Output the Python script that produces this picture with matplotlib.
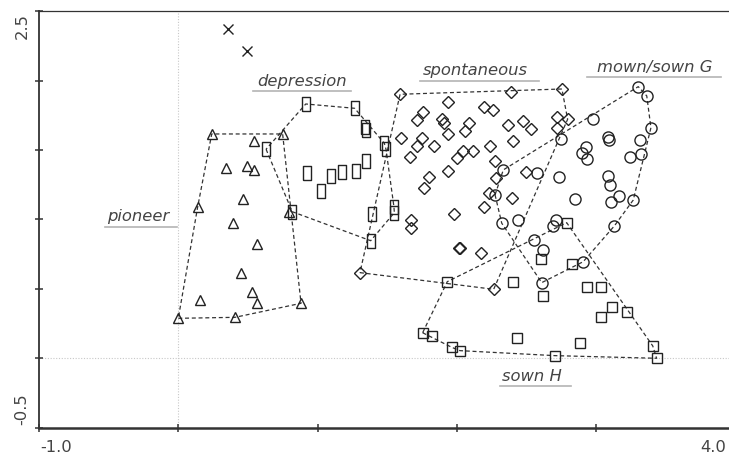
import matplotlib
matplotlib.use("Agg")
import matplotlib.pyplot as plt

# ordination scores, one pair of lists per group
cross_x = [0.357, 0.493]
cross_y = [2.372, 2.214]

pioneer_x = [0.240, 0.543, 0.749, 0.342, 0.491, 0.546, 0.462, 0.139, 0.797, 0.395,
             0.567, 0.450, 0.531, 0.563, 0.156, 0.881, 0.000, 0.407]
pioneer_y = [1.616, 1.566, 1.616, 1.373, 1.385, 1.357, 1.148, 1.090, 1.054, 0.977,
             0.823, 0.617, 0.476, 0.396, 0.420, 0.396, 0.288, 0.295]

depression_x = [0.915, 1.266, 1.343, 1.350, 1.479, 1.491, 0.630, 0.922, 1.027, 1.096,
                1.177, 1.278, 1.345, 0.818, 1.393, 1.548, 1.551, 1.381]
depression_y = [1.832, 1.801, 1.668, 1.645, 1.549, 1.506, 1.506, 1.333, 1.208, 1.313,
                1.344, 1.352, 1.421, 1.056, 1.040, 1.092, 1.049, 0.847]

spontaneous_x = [1.592, 2.388, 2.754, 1.938, 1.754, 1.716, 2.195, 2.257, 1.891, 1.907,
                 2.087, 2.058, 2.365, 2.477, 2.532, 1.599, 1.747, 1.711, 1.838, 1.938,
                 2.405, 1.663, 1.999, 2.046, 2.113, 2.235, 2.274, 1.938, 1.800, 1.766,
                 2.279, 2.233, 2.396, 2.494, 2.197, 1.981, 1.671, 1.671, 2.015, 2.020,
                 2.173, 1.304, 2.264, 2.721, 2.795, 2.716]
spontaneous_y = [1.902, 1.916, 1.940, 1.844, 1.772, 1.717, 1.813, 1.789, 1.722, 1.697,
                 1.693, 1.640, 1.681, 1.710, 1.652, 1.589, 1.589, 1.530, 1.530, 1.616,
                 1.566, 1.450, 1.441, 1.494, 1.494, 1.530, 1.424, 1.349, 1.304, 1.229,
                 1.297, 1.193, 1.153, 1.340, 1.090, 1.040, 0.997, 0.937, 0.797, 0.792,
                 0.756, 0.617, 0.497, 1.741, 1.722, 1.661]

mown_x = [3.302, 3.363, 3.393, 2.979, 2.749, 3.083, 3.092, 3.314, 3.243, 3.320,
          2.927, 2.896, 2.932, 2.733, 3.087, 3.099, 2.849, 3.166, 3.104, 3.266,
          2.709, 2.692, 2.553, 2.616, 3.130, 2.907, 2.609, 2.333, 2.573, 2.274,
          2.322, 2.436]
mown_y = [1.957, 1.890, 1.661, 1.724, 1.578, 1.594, 1.573, 1.573, 1.448, 1.470,
          1.524, 1.477, 1.436, 1.308, 1.313, 1.249, 1.146, 1.171, 1.124, 1.140,
          0.996, 0.955, 0.852, 0.780, 0.953, 0.696, 0.545, 1.357, 1.333, 1.177,
          0.973, 0.996]

sownh_x = [2.788, 1.931, 2.405, 2.620, 2.604, 2.828, 2.932, 3.032, 3.111, 3.035,
           3.223, 3.406, 3.434, 2.704, 2.884, 2.434, 1.754, 1.819, 1.963, 2.022]
sownh_y = [0.977, 0.552, 0.552, 0.449, 0.715, 0.679, 0.516, 0.516, 0.372, 0.295,
           0.336, 0.089, 0.000, 0.019, 0.112, 0.144, 0.184, 0.161, 0.079, 0.055]

group_names = ['pioneer', 'depression', 'spontaneous', 'mown/sown G', 'sown H']
x_tick_labels = ['-1.0', '4.0']
y_tick_labels = ['2.5', '-0.5']

INK = '#222222'
TXT = '#444444'
FONT = 'DejaVu Sans'


def convex_hull(xs, ys):
    pts = sorted(set(zip(xs, ys)))

    def cross(o, a, b):
        return (a[0] - o[0]) * (b[1] - o[1]) - (a[1] - o[1]) * (b[0] - o[0])

    lower = []
    for p in pts:
        while len(lower) >= 2 and cross(lower[-2], lower[-1], p) <= 0:
            lower.pop()
        lower.append(p)
    upper = []
    for p in reversed(pts):
        while len(upper) >= 2 and cross(upper[-2], upper[-1], p) <= 0:
            upper.pop()
        upper.append(p)
    hull = lower[:-1] + upper[:-1]
    hull.append(hull[0])
    return [p[0] for p in hull], [p[1] for p in hull]


fig = plt.figure(figsize=(7.29, 4.58), dpi=100)
ax = fig.add_axes([0.0535, 0.0662, 0.9554, 0.9092])
ax.set_xlim(-1, 4)
ax.set_ylim(-0.5, 2.5)

# light dotted origin lines
ax.axvline(0, color='#c8c8c8', lw=0.8, ls=(0, (1, 1.5)), zorder=0)
ax.axhline(0, color='#c8c8c8', lw=0.8, ls=(0, (1, 1.5)), zorder=0)

rect_marker = [(-0.27, -0.5), (0.27, -0.5), (0.27, 0.5), (-0.27, 0.5), (-0.27, -0.5)]

groups = [
    (pioneer_x, pioneer_y, '^', 7.5),
    (depression_x, depression_y, rect_marker, 9.5),
    (spontaneous_x, spontaneous_y, 'D', 6.3),
    (mown_x, mown_y, 'o', 8),
    (sownh_x, sownh_y, 's', 7),
]

for gx, gy, mk, ms in groups:
    hx, hy = convex_hull(gx, gy)
    ax.plot(hx, hy, color='#333333', lw=0.9, dashes=(3.2, 2.2), zorder=2)
    ax.plot(gx, gy, ls='none', marker=mk, ms=ms, mfc='none', mec=INK, mew=1.0, zorder=3)

ax.plot(cross_x, cross_y, ls='none', marker='x', ms=7, mec=INK, mew=1.0, zorder=3)

# group labels with a grey rule under each
label_pos = [(-0.287, 0.986), (0.886, 1.965), (2.132, 2.041), (3.417, 2.063), (2.539, -0.164)]
rule_pos = [(-0.526, -0.009, 0.948), (0.536, 1.240, 1.922), (1.735, 2.589, 2.000),
            (2.934, 3.896, 2.029), (2.309, 2.819, -0.200)]
for name, (tx, ty), (r0, r1, ry) in zip(group_names, label_pos, rule_pos):
    ax.text(tx, ty, name, ha='center', va='baseline', style='italic',
            fontsize=11.8, color=TXT, family=FONT)
    ax.plot([r0, r1], [ry, ry], color='#b4b4b4', lw=1.2, zorder=1)

# axes frame
for side in ['left', 'bottom']:
    ax.spines[side].set_color('#333333')
ax.spines['left'].set_linewidth(1.3)
ax.spines['bottom'].set_linewidth(1.8)
ax.spines['top'].set_linewidth(0.9)
ax.spines['top'].set_color('#333333')
ax.spines['right'].set_visible(False)

ax.set_xticks([-1, 0, 1, 2, 3, 4])
ax.set_yticks([-0.5, 0, 0.5, 1.0, 1.5, 2.0, 2.5])
ax.set_xticklabels([])
ax.set_yticklabels([])
ax.tick_params(direction='inout', length=5.5, width=1.1, color='#333333')

ax.text(-0.993, -0.646, x_tick_labels[0], ha='left', va='center',
        fontsize=11.8, color=TXT, family=FONT, clip_on=False)
ax.text(3.932, -0.646, x_tick_labels[1], ha='right', va='center',
        fontsize=11.8, color=TXT, family=FONT, clip_on=False)
ax.text(-1.122, 2.488, y_tick_labels[0], ha='center', va='top', rotation=90,
        fontsize=11.8, color=TXT, family=FONT, clip_on=False)
ax.text(-1.122, -0.481, y_tick_labels[1], ha='center', va='bottom', rotation=90,
        fontsize=11.8, color=TXT, family=FONT, clip_on=False)

fig.savefig('out.png', dpi=100)
